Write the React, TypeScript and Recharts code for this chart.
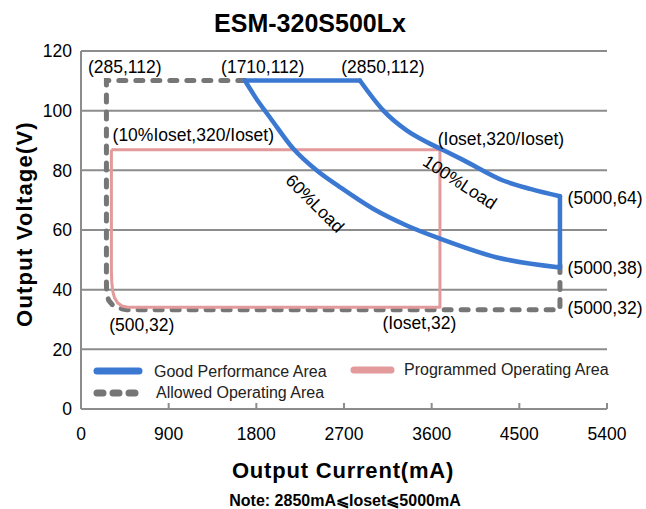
import React from 'react';
import { LineChart, Line, XAxis, YAxis, CartesianGrid, ReferenceDot } from 'recharts';

// ---- data (in axis units: mA / V) ----
const xTicks = [0, 900, 1800, 2700, 3600, 4500, 5400];
const yTicks = [0, 20, 40, 60, 80, 100, 120];

// Allowed Operating Area (dashed outline)
const allowedArea = [
  { x: 1682, y: 110.1 },
  { x: 261, y: 110.1 },
  { x: 261, y: 42.1 },
  { x: 263, y: 39.8 },
  { x: 269, y: 38.0 },
  { x: 285, y: 36.4 },
  { x: 320, y: 35.0 },
  { x: 370, y: 34.0 },
  { x: 430, y: 33.5 },
  { x: 469, y: 33.3 },
  { x: 4917, y: 33.3 },
  { x: 4917, y: 49 },
];

// Good Performance Area, split into its four edges
const goodTop = [
  { x: 1682, y: 110.1 },
  { x: 2863, y: 110.1 },
];
const good100Load = [
  { x: 2863, y: 110.1 },
  { x: 3102, y: 100.1 },
  { x: 3343, y: 93.4 },
  { x: 3548, y: 89.5 },
  { x: 3685, y: 87.3 },
  { x: 3921, y: 83.5 },
  { x: 4332, y: 76.6 },
  { x: 4620, y: 73.7 },
  { x: 4917, y: 71.3 },
];
const goodRight = [
  { x: 4917, y: 71.3 },
  { x: 4917, y: 47.4 },
];
const good60Load = [
  { x: 1682, y: 110.1 },
  { x: 1836, y: 102.3 },
  { x: 1938, y: 97.8 },
  { x: 2178, y: 87.3 },
  { x: 2418, y: 80.0 },
  { x: 2657, y: 74.4 },
  { x: 2999, y: 67.1 },
  { x: 3343, y: 61.5 },
  { x: 3685, y: 57.1 },
  { x: 4270, y: 50.8 },
  { x: 4917, y: 47.4 },
];

// Programmed Operating Area
const programmedArea = [
  { x: 312, y: 86.9 },
  { x: 3685, y: 86.9 },
  { x: 3685, y: 34.1 },
  { x: 480, y: 34.1 },
  { x: 420, y: 34.5 },
  { x: 375, y: 35.6 },
  { x: 343, y: 37.4 },
  { x: 325, y: 39.6 },
  { x: 316, y: 42.6 },
  { x: 312, y: 46.4 },
  { x: 312, y: 86.9 },
];

const annotationTexts = [
  '(285,112)', '(1710,112)', '(2850,112)', '(10%Ioset,320/Ioset)', '(Ioset,320/Ioset)',
  '(500,32)', '(Ioset,32)', '(5000,64)', '(5000,38)', '(5000,32)', '60%Load', '100%Load',
];
const annotationX = [449, 1866, 3099, 1153, 4311, 624, 3474, 5380, 5380, 5380, 2401, 3890];
const annotationY = [114.5, 114.5, 114.8, 91.9, 90.5, 28.2, 28.8, 70.8, 47.3, 33.9, 68.9, 76.0];
const annotationAngle = [0, 0, 0, 0, 0, 0, 0, 0, 0, 0, 45, 33];

const legendNames = ['Good Performance Area', 'Programmed Operating Area', 'Allowed Operating Area'];

const titleText = 'ESM-320S500Lx';
const xTitle = 'Output Current(mA)';
const yTitle = 'Output Voltage(V)';
const noteText = 'Note:  2850mA\u2A7DIoset\u2A7D5000mA';

// ---- styles ----
const FONT = "'Liberation Sans', Arial, Helvetica, sans-serif";
const GRID = '#8c8c8c';
const BLUE = '#3b78d2';
const PINK = '#e29a9a';
const GRAY = '#767676';

const XTick = (props: any) => {
  const { x, y, payload } = props;
  return (
    <g>
      <line x1={x} x2={x} y1={y} y2={y - 6} stroke={GRID} strokeWidth={2} />
      <text x={x} y={y + 31} textAnchor="middle" fontSize={17.5} fontFamily={FONT} fill="#000">
        {payload.value}
      </text>
    </g>
  );
};

const makeLabel = (i: number) => (p: any) => (
  <text
    x={p.cx}
    y={p.cy}
    textAnchor="middle"
    dominantBaseline="central"
    fontSize={17.5}
    fontFamily={FONT}
    fill="#000"
    transform={annotationAngle[i] ? `rotate(${annotationAngle[i]} ${p.cx} ${p.cy})` : undefined}
  >
    {annotationTexts[i]}
  </text>
);

const blueProps = {
  stroke: BLUE,
  strokeWidth: 4.5,
  strokeLinecap: 'round' as const,
  strokeLinejoin: 'round' as const,
  dot: false,
  isAnimationActive: false,
  dataKey: 'y',
};

export default function App() {
  return (
    <div style={{ position: 'absolute', left: 0, top: 0, width: 646, height: 509, background: '#fff' }}>
      <LineChart
        width={646}
        height={509}
        margin={{ top: 51, right: 39, bottom: 0, left: 0 }}
      >
        <CartesianGrid vertical={false} stroke={GRID} strokeWidth={2} />
        <XAxis
          type="number"
          dataKey="x"
          domain={[0, 5400]}
          ticks={xTicks}
          height={100}
          axisLine={{ stroke: GRID, strokeWidth: 2 }}
          tickLine={false}
          tickSize={0}
          tickMargin={0}
          tick={<XTick />}
          interval={0}
        />
        <YAxis
          type="number"
          domain={[0, 120]}
          ticks={yTicks}
          width={81}
          axisLine={{ stroke: GRID, strokeWidth: 2 }}
          tickLine={false}
          tickSize={0}
          tickMargin={9}
          tick={{ fill: '#000', fontSize: 17.5, fontFamily: FONT }}
          interval={0}
        />
        <Line
          data={allowedArea}
          dataKey="y"
          type="linear"
          stroke={GRAY}
          strokeWidth={5}
          strokeDasharray="7 10"
          strokeLinecap="round"
          dot={false}
          isAnimationActive={false}
        />
        <Line
          data={programmedArea}
          dataKey="y"
          type="linear"
          stroke={PINK}
          strokeWidth={3}
          strokeLinejoin="round"
          dot={false}
          isAnimationActive={false}
        />
        <Line data={goodTop} type="linear" {...blueProps} />
        <Line data={good100Load} type="monotone" {...blueProps} />
        <Line data={goodRight} type="linear" {...blueProps} />
        <Line data={good60Load} type="monotone" {...blueProps} />
        {annotationTexts.map((t, i) => (
          <ReferenceDot
            key={t + i}
            x={annotationX[i]}
            y={annotationY[i]}
            r={0}
            ifOverflow="visible"
            shape={makeLabel(i)}
          />
        ))}
      </LineChart>
      <svg
        width={646}
        height={509}
        style={{ position: 'absolute', left: 0, top: 0, pointerEvents: 'none' }}
      >
        <text x={310} y={32} textAnchor="middle" fontSize={25} fontWeight="bold" fontFamily={FONT} fill="#000">
          {titleText}
        </text>
        <text
          x={24}
          y={224}
          textAnchor="middle"
          dominantBaseline="central"
          fontSize={22}
          fontWeight="bold"
          letterSpacing={1.2}
          fontFamily={FONT}
          fill="#000"
          transform="rotate(-90 24 224)"
        >
          {yTitle}
        </text>
        <text x={343} y={470} textAnchor="middle" dominantBaseline="central" fontSize={22} fontWeight="bold" letterSpacing={0.8} fontFamily={FONT} fill="#000">
          {xTitle}
        </text>
        <text x={345} y={500} textAnchor="middle" dominantBaseline="central" fontSize={16} fontWeight="bold" fontFamily={FONT} fill="#000">
          {noteText}
        </text>
        {/* legend */}
        <line x1={97} x2={139} y1={371} y2={371} stroke={BLUE} strokeWidth={7} strokeLinecap="round" />
        <text x={154} y={371} dominantBaseline="central" fontSize={16} fontFamily={FONT} fill="#222">{legendNames[0]}</text>
        <line x1={354} x2={391} y1={370} y2={370} stroke={PINK} strokeWidth={7} strokeLinecap="round" />
        <text x={404} y={369} dominantBaseline="central" fontSize={16} fontFamily={FONT} fill="#222">{legendNames[1]}</text>
        <line x1={97} x2={135.5} y1={393} y2={393} stroke={GRAY} strokeWidth={7} strokeDasharray="6 10" strokeLinecap="round" />
        <text x={156} y={392} dominantBaseline="central" fontSize={16} fontFamily={FONT} fill="#222">{legendNames[2]}</text>
      </svg>
    </div>
  );
}
